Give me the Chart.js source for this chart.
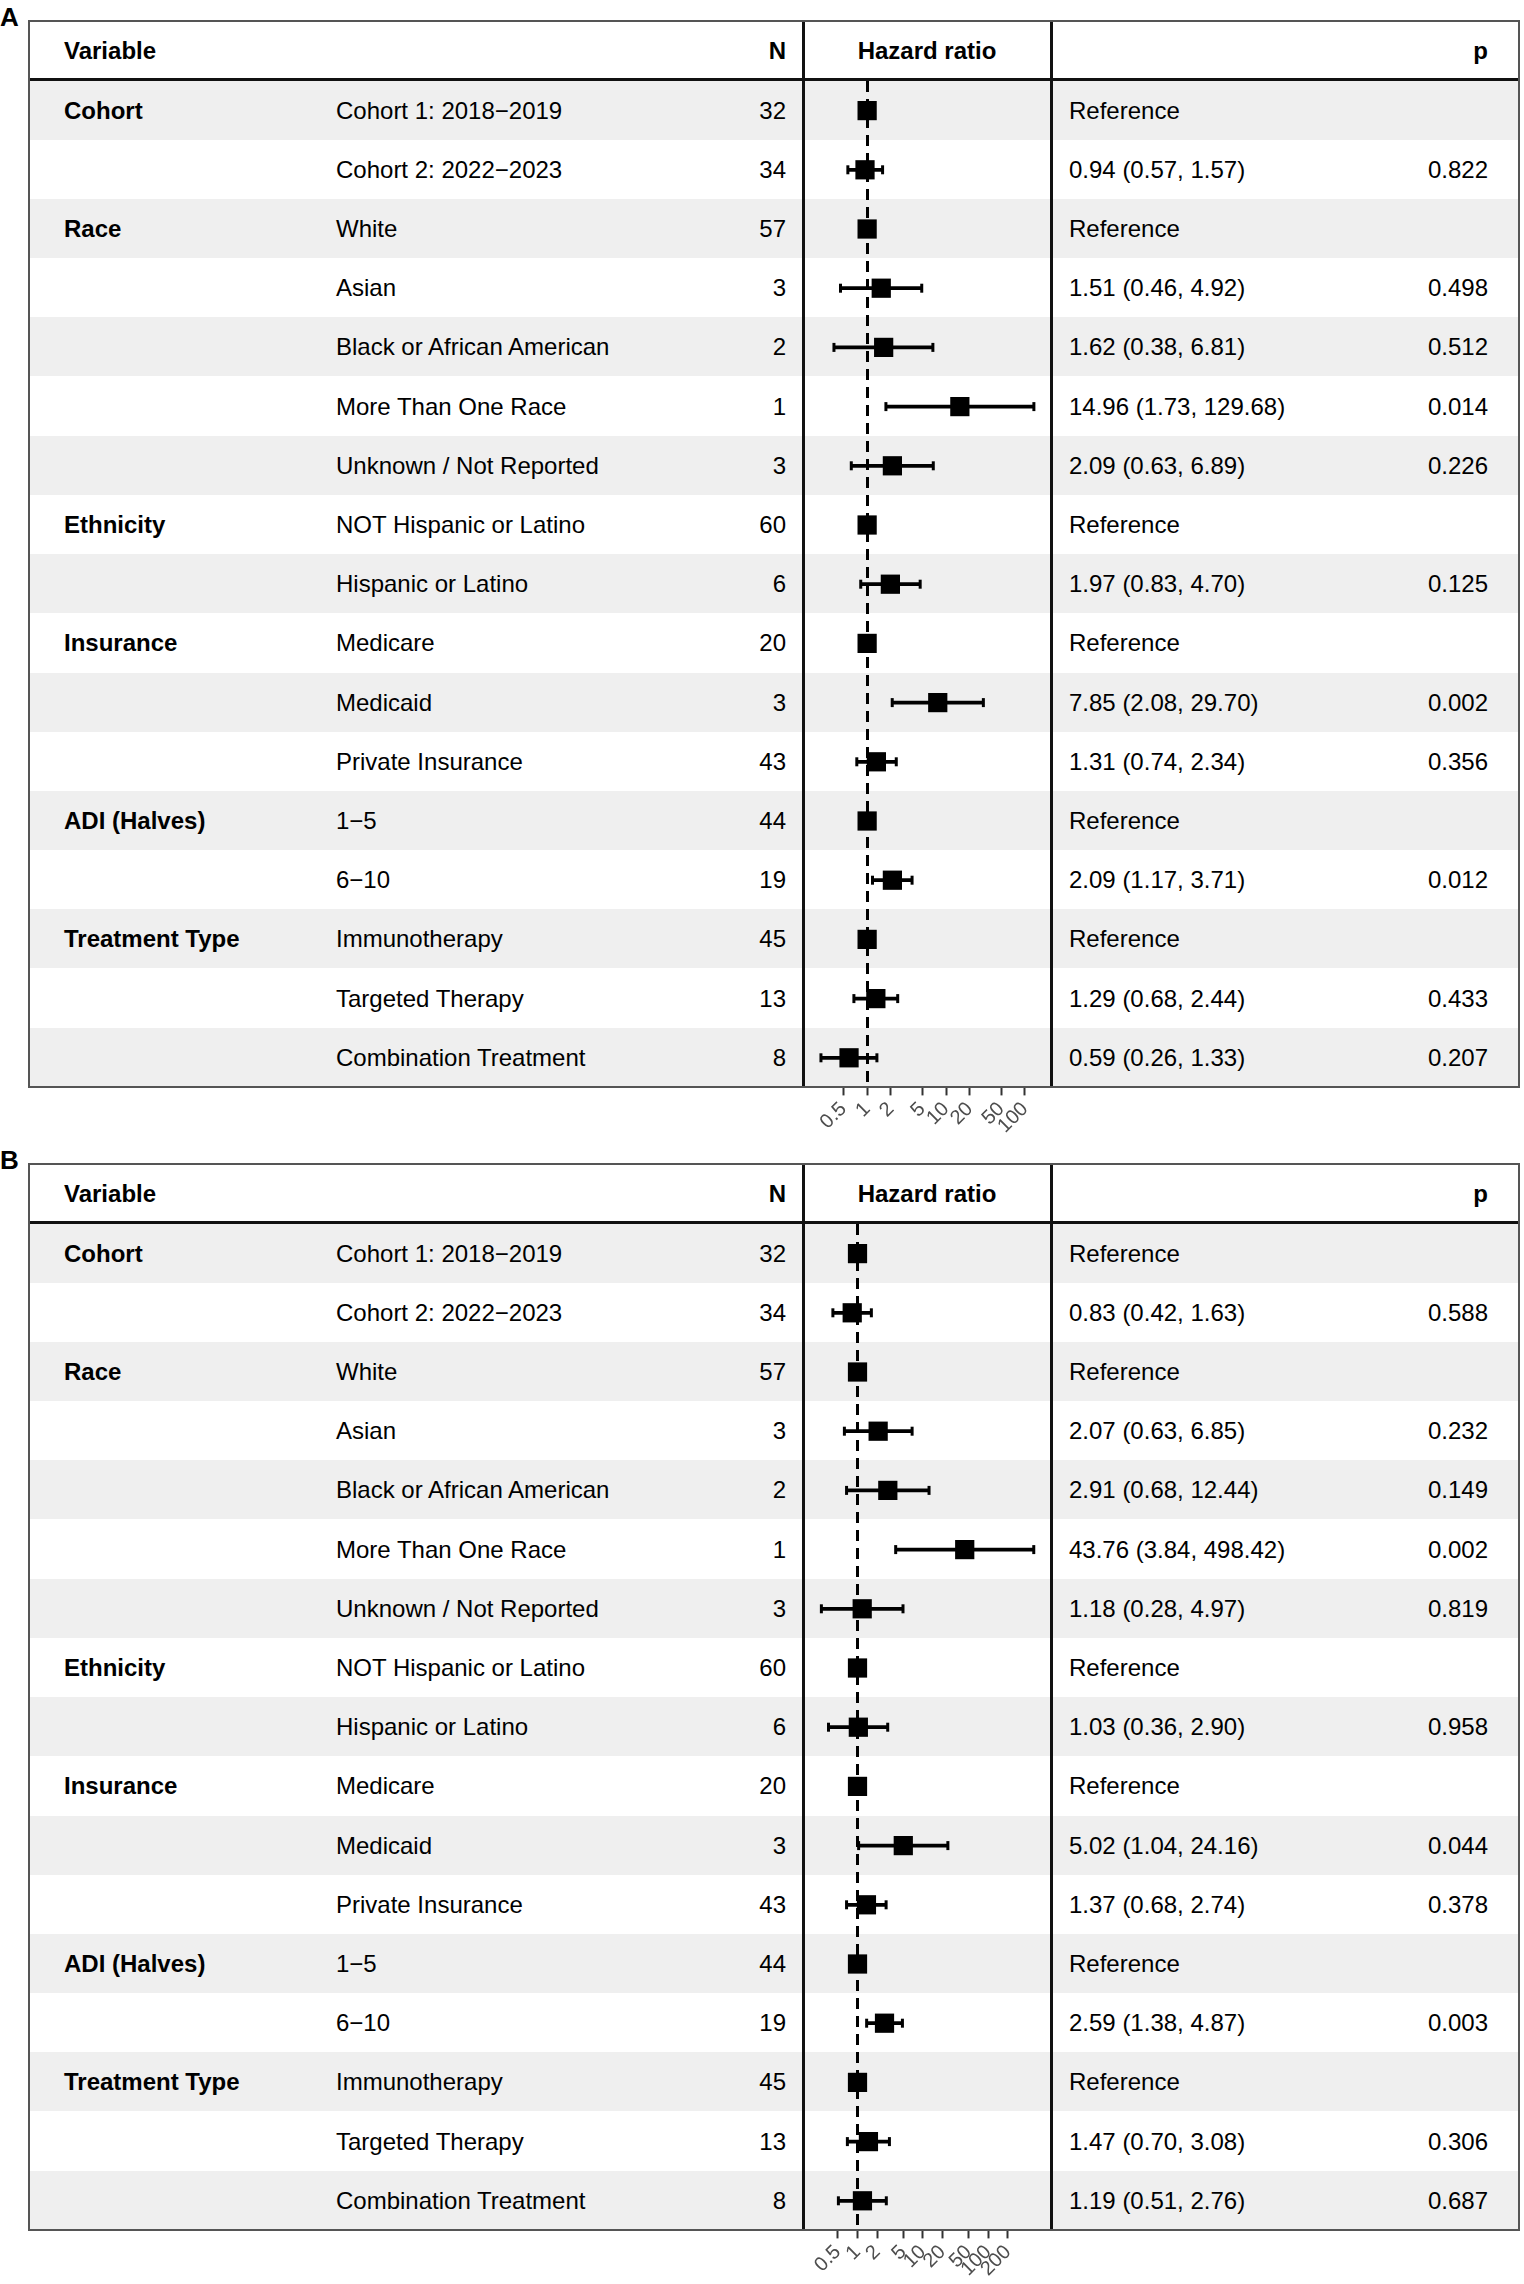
<!DOCTYPE html>
<html>
<head>
<meta charset="utf-8">
<title>Hazard ratio forest plots</title>
<script src="https://cdn.jsdelivr.net/npm/chart.js@4.4.1/dist/chart.umd.min.js"></script>
<style>
  body { margin: 0; background: #fff; font-family: "Liberation Sans", Arial, sans-serif; color: #000; }
  #page { position: relative; width: 1524px; height: 2284px; overflow: hidden; }
  .abs { position: absolute; }
  .txt { position: absolute; font-size: 24px; white-space: nowrap; }
  .bold { font-weight: bold; }
  .panel-label { position: absolute; font-size: 26px; font-weight: bold; line-height: 1; }
</style>
</head>
<body>
<div id="page"></div>
<script>
  // Rows (same for both panels)
  const groups = ["Cohort", "", "Race", "", "", "", "", "Ethnicity", "", "Insurance", "", "", "ADI (Halves)", "", "Treatment Type", "", ""];
  const levels = ["Cohort 1: 2018\u22122019", "Cohort 2: 2022\u22122023", "White", "Asian", "Black or African American",
    "More Than One Race", "Unknown / Not Reported", "NOT Hispanic or Latino", "Hispanic or Latino", "Medicare",
    "Medicaid", "Private Insurance", "1\u22125", "6\u221210", "Immunotherapy", "Targeted Therapy", "Combination Treatment"];
  const counts = [32, 34, 57, 3, 2, 1, 3, 60, 6, 20, 3, 43, 44, 19, 45, 13, 8];

  // Panel A
  const hrA = [1, 0.94, 1, 1.51, 1.62, 14.96, 2.09, 1, 1.97, 1, 7.85, 1.31, 1, 2.09, 1, 1.29, 0.59];
  const lowerA = [null, 0.57, null, 0.46, 0.38, 1.73, 0.63, null, 0.83, null, 2.08, 0.74, null, 1.17, null, 0.68, 0.26];
  const upperA = [null, 1.57, null, 4.92, 6.81, 129.68, 6.89, null, 4.70, null, 29.70, 2.34, null, 3.71, null, 2.44, 1.33];
  const pA = ["", "0.822", "", "0.498", "0.512", "0.014", "0.226", "", "0.125", "", "0.002", "0.356", "", "0.012", "", "0.433", "0.207"];
  const ticksA = [0.5, 1, 2, 5, 10, 20, 50, 100];

  // Panel B
  const hrB = [1, 0.83, 1, 2.07, 2.91, 43.76, 1.18, 1, 1.03, 1, 5.02, 1.37, 1, 2.59, 1, 1.47, 1.19];
  const lowerB = [null, 0.42, null, 0.63, 0.68, 3.84, 0.28, null, 0.36, null, 1.04, 0.68, null, 1.38, null, 0.70, 0.51];
  const upperB = [null, 1.63, null, 6.85, 12.44, 498.42, 4.97, null, 2.90, null, 24.16, 2.74, null, 4.87, null, 3.08, 2.76];
  const pB = ["", "0.588", "", "0.232", "0.149", "0.002", "0.819", "", "0.958", "", "0.044", "0.378", "", "0.003", "", "0.306", "0.687"];
  const ticksB = [0.5, 1, 2, 5, 10, 20, 50, 100, 200];

  Chart.defaults.font.family = "'Liberation Sans', Arial, sans-serif";

  const page = document.getElementById("page");
  const ROW_H = 59.2;
  const HEAD_H = 59.5;
  const PLOT_LEFT = 803;
  const PLOT_W = 249;
  const AXIS_H = 74.6;

  function box(x, y, w, h, css) {
    const d = document.createElement("div");
    d.className = "abs";
    d.style.left = x + "px";
    d.style.top = y + "px";
    d.style.width = w + "px";
    d.style.height = h + "px";
    Object.assign(d.style, css || {});
    page.appendChild(d);
    return d;
  }

  function text(str, x, y, h, align, bold) {
    const d = document.createElement("div");
    d.className = "txt" + (bold ? " bold" : "");
    d.textContent = str;
    d.style.top = y + "px";
    d.style.height = h + "px";
    d.style.lineHeight = h + "px";
    if (align === "left") {
      d.style.left = x + "px";
    } else if (align === "right") {
      d.style.left = (x - 400) + "px";
      d.style.width = "400px";
      d.style.textAlign = "right";
    } else {
      d.style.left = (x - 200) + "px";
      d.style.width = "400px";
      d.style.textAlign = "center";
    }
    page.appendChild(d);
  }

  function buildPanel(label, top, hr, lower, upper, pvals, tickValues, xMin, xMax) {
    const rowsTop = top + HEAD_H;
    const bottom = rowsTop + ROW_H * hr.length;

    const lab = document.createElement("div");
    lab.className = "panel-label";
    lab.textContent = label;
    lab.style.left = "0px";
    lab.style.top = (top - 17) + "px";
    page.appendChild(lab);

    // striped rows
    hr.forEach((v, i) => {
      if (i % 2 === 0) box(29, rowsTop + i * ROW_H, 1490, ROW_H, { background: "#efefef" });
    });

    // header
    text("Variable", 64, top + 1, 57, "left", true);
    text("N", 786, top + 1, 57, "right", true);
    text("Hazard ratio", 927, top + 1, 57, "center", true);
    text("p", 1488, top + 1, 57, "right", true);

    // table cells
    hr.forEach((v, i) => {
      const y = rowsTop + i * ROW_H;
      if (groups[i]) text(groups[i], 64, y, ROW_H, "left", true);
      text(levels[i], 336, y, ROW_H, "left", false);
      text(String(counts[i]), 786, y, ROW_H, "right", false);
      const est = lower[i] === null ? "Reference"
        : v.toFixed(2) + " (" + lower[i].toFixed(2) + ", " + upper[i].toFixed(2) + ")";
      text(est, 1069, y, ROW_H, "left", false);
      if (pvals[i]) text(pvals[i], 1488, y, ROW_H, "right", false);
    });

    // forest plot
    const holder = box(PLOT_LEFT, rowsTop, PLOT_W, Math.round(ROW_H * hr.length + AXIS_H));
    const canvas = document.createElement("canvas");
    holder.appendChild(canvas);
    drawForest(canvas, hr, lower, upper, tickValues, xMin, xMax);

    // lines
    box(29, top + 56.5, 1490, 3, { background: "#111" });
    box(802.3, top, 2.5, bottom - top, { background: "#111" });
    box(1050.3, top, 2.5, bottom - top, { background: "#111" });
    box(28, top - 1, 1492, bottom - top + 2, { border: "2px solid #555", boxSizing: "border-box" });
  }

  function drawForest(canvas, hr, lower, upper, tickValues, xMin, xMax) {
    const rows = hr.map((v, i) => i);
    const whiskers = hr.map((v, i) => lower[i] === null ? null : [lower[i], upper[i]]);
    const caps = [];
    hr.forEach((v, i) => {
      if (lower[i] !== null) {
        caps.push({ x: lower[i], y: i });
        caps.push({ x: upper[i], y: i });
      }
    });
    const points = hr.map((v, i) => ({ x: v, y: i }));

    new Chart(canvas.getContext("2d"), {
      type: "bar",
      data: {
        labels: rows,
        datasets: [
          {
            type: "bar",
            data: whiskers,
            backgroundColor: "#000",
            borderWidth: 0,
            barThickness: 3
          },
          {
            type: "line",
            data: caps,
            showLine: false,
            pointStyle: "line",
            pointRotation: 90,
            pointRadius: 4.5,
            pointBorderColor: "#000",
            pointBorderWidth: 3
          },
          {
            type: "line",
            data: points,
            showLine: false,
            pointStyle: "rect",
            pointRadius: 13.6,
            pointBackgroundColor: "#000",
            pointBorderWidth: 0
          }
        ]
      },
      options: {
        indexAxis: "y",
        responsive: true,
        maintainAspectRatio: false,
        animation: false,
        events: [],
        layout: { padding: 0, autoPadding: false },
        plugins: {
          legend: { display: false },
          tooltip: { enabled: false }
        },
        scales: {
          y: {
            type: "category",
            display: false,
            offset: true
          },
          x: {
            type: "logarithmic",
            min: xMin,
            max: xMax,
            afterBuildTicks: function(axis) {
              axis.ticks = tickValues.map(v => ({ value: v }));
            },
            afterFit: function(axis) {
              axis.height = AXIS_H;
            },
            border: { display: false, dash: [11, 7] },
            grid: {
              color: ctx => (ctx.tick && ctx.tick.value === 1) ? "#000" : "rgba(0,0,0,0)",
              lineWidth: 3,
              tickColor: "#333",
              tickLength: 8,
              tickWidth: 2,
              tickBorderDash: []
            },
            ticks: {
              autoSkip: false,
              minRotation: 45,
              maxRotation: 45,
              padding: 2,
              color: "#4d4d4d",
              font: { size: 20 },
              callback: function(value) {
                return String(value);
              }
            }
          }
        }
      }
    });
  }

  buildPanel("A", 21, hrA, lowerA, upperA, pA, ticksA, 0.154, 220);
  buildPanel("B", 1164, hrB, lowerB, upperB, pB, ticksB, 0.1465, 948);
</script>
</body>
</html>
